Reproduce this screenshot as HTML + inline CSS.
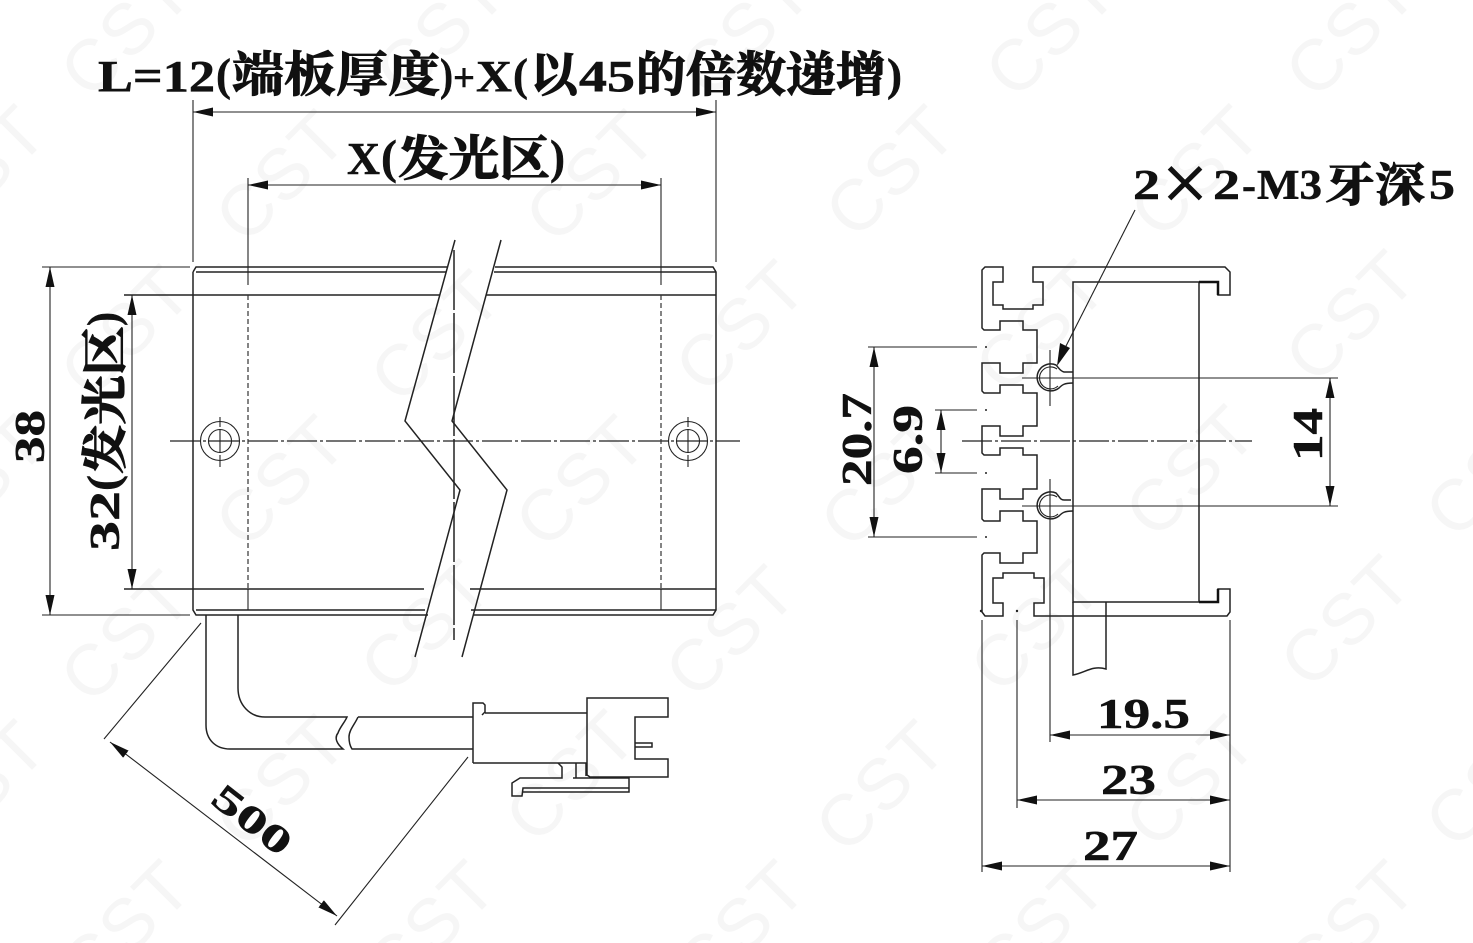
<!DOCTYPE html>
<html><head><meta charset="utf-8"><style>
html,body{margin:0;padding:0;background:#fff;overflow:hidden;width:1473px;height:943px}
svg{display:block}
text{font-family:"Liberation Serif","Noto Serif CJK SC",serif;font-weight:700;fill:#111;stroke:#111;stroke-width:.5}
text.cj{stroke-width:1.1}
text.wmt{font-family:"Liberation Sans",sans-serif;font-weight:400;font-size:72px;fill:#f6f6f6;stroke:none;letter-spacing:2px}
.l{fill:none;stroke:#222;stroke-width:1.5}
.t{fill:none;stroke:#222;stroke-width:1.1}
.c{fill:none;stroke:#222;stroke-width:1.2;stroke-dasharray:30 3 3 3}
.d{fill:none;stroke:#333;stroke-width:1.2;stroke-dasharray:5 3}
</style></head><body>
<svg width="1473" height="943" viewBox="0 0 1473 943" xmlns="http://www.w3.org/2000/svg">
<defs>
<marker id="a" markerUnits="userSpaceOnUse" markerWidth="24" markerHeight="12" refX="20" refY="6" orient="auto-start-reverse"><path d="M0,1.5 L20,6 L0,10.5 Z" fill="#111"/></marker>
<clipPath id="f"><rect width="1473" height="943"/></clipPath>
</defs>
<g clip-path="url(#f)">
<g>
<text class="wmt" text-anchor="middle" transform="translate(125,30) rotate(-45) translate(0,26)">CST</text>
<text class="wmt" text-anchor="middle" transform="translate(440,30) rotate(-45) translate(0,26)">CST</text>
<text class="wmt" text-anchor="middle" transform="translate(745,30) rotate(-45) translate(0,26)">CST</text>
<text class="wmt" text-anchor="middle" transform="translate(1050,30) rotate(-45) translate(0,26)">CST</text>
<text class="wmt" text-anchor="middle" transform="translate(1350,30) rotate(-45) translate(0,26)">CST</text>
<text class="wmt" text-anchor="middle" transform="translate(-20,170) rotate(-45) translate(0,26)">CST</text>
<text class="wmt" text-anchor="middle" transform="translate(280,175) rotate(-45) translate(0,26)">CST</text>
<text class="wmt" text-anchor="middle" transform="translate(590,175) rotate(-45) translate(0,26)">CST</text>
<text class="wmt" text-anchor="middle" transform="translate(890,170) rotate(-45) translate(0,26)">CST</text>
<text class="wmt" text-anchor="middle" transform="translate(1195,170) rotate(-45) translate(0,26)">CST</text>
<text class="wmt" text-anchor="middle" transform="translate(125,330) rotate(-45) translate(0,26)">CST</text>
<text class="wmt" text-anchor="middle" transform="translate(435,335) rotate(-45) translate(0,26)">CST</text>
<text class="wmt" text-anchor="middle" transform="translate(740,325) rotate(-45) translate(0,26)">CST</text>
<text class="wmt" text-anchor="middle" transform="translate(1040,325) rotate(-45) translate(0,26)">CST</text>
<text class="wmt" text-anchor="middle" transform="translate(1350,315) rotate(-45) translate(0,26)">CST</text>
<text class="wmt" text-anchor="middle" transform="translate(-20,480) rotate(-45) translate(0,26)">CST</text>
<text class="wmt" text-anchor="middle" transform="translate(280,480) rotate(-45) translate(0,26)">CST</text>
<text class="wmt" text-anchor="middle" transform="translate(580,480) rotate(-45) translate(0,26)">CST</text>
<text class="wmt" text-anchor="middle" transform="translate(885,480) rotate(-45) translate(0,26)">CST</text>
<text class="wmt" text-anchor="middle" transform="translate(1190,470) rotate(-45) translate(0,26)">CST</text>
<text class="wmt" text-anchor="middle" transform="translate(1490,470) rotate(-45) translate(0,26)">CST</text>
<text class="wmt" text-anchor="middle" transform="translate(125,635) rotate(-45) translate(0,26)">CST</text>
<text class="wmt" text-anchor="middle" transform="translate(425,625) rotate(-45) translate(0,26)">CST</text>
<text class="wmt" text-anchor="middle" transform="translate(730,630) rotate(-45) translate(0,26)">CST</text>
<text class="wmt" text-anchor="middle" transform="translate(1035,625) rotate(-45) translate(0,26)">CST</text>
<text class="wmt" text-anchor="middle" transform="translate(1345,620) rotate(-45) translate(0,26)">CST</text>
<text class="wmt" text-anchor="middle" transform="translate(-20,785) rotate(-45) translate(0,26)">CST</text>
<text class="wmt" text-anchor="middle" transform="translate(280,780) rotate(-45) translate(0,26)">CST</text>
<text class="wmt" text-anchor="middle" transform="translate(570,775) rotate(-45) translate(0,26)">CST</text>
<text class="wmt" text-anchor="middle" transform="translate(880,785) rotate(-45) translate(0,26)">CST</text>
<text class="wmt" text-anchor="middle" transform="translate(1190,780) rotate(-45) translate(0,26)">CST</text>
<text class="wmt" text-anchor="middle" transform="translate(1490,780) rotate(-45) translate(0,26)">CST</text>
<text class="wmt" text-anchor="middle" transform="translate(125,925) rotate(-45) translate(0,26)">CST</text>
<text class="wmt" text-anchor="middle" transform="translate(430,925) rotate(-45) translate(0,26)">CST</text>
<text class="wmt" text-anchor="middle" transform="translate(740,925) rotate(-45) translate(0,26)">CST</text>
<text class="wmt" text-anchor="middle" transform="translate(1040,925) rotate(-45) translate(0,26)">CST</text>
<text class="wmt" text-anchor="middle" transform="translate(1350,925) rotate(-45) translate(0,26)">CST</text>
</g>

<!-- left view body -->
<path class="l" d="M193,272V610L196,615H428M193,272L196,267H447M495,267H713L716,272V610L713,615H473M196,272H446M494,272H716"/>
<path class="l" d="M124,295H440M486,295H716M124,589H424M470,589H716M196,610H425M471,610H716"/>
<path class="l" d="M455,240L405,421L460,490L415,657M501,240L452,421L507,490L462,657"/>
<path class="l" d="M454,250V640" stroke-dasharray="60 3"/>
<path class="c" d="M170,441H740"/>
<path class="d" d="M248,295V589M661,295V589"/>
<path class="t" d="M248,178V285M661,178V285M248,589V610M661,589V610"/>
<path class="t" d="M193,100V262M716,100V262"/>
<path class="t" d="M42,267H190M42,615H190"/>
<path class="t" d="M193,112H716" marker-start="url(#a)" marker-end="url(#a)"/>
<path class="t" d="M248,185H661" marker-start="url(#a)" marker-end="url(#a)"/>
<path class="t" d="M50,267V615" marker-start="url(#a)" marker-end="url(#a)"/>
<path class="t" d="M132,295V589" marker-start="url(#a)" marker-end="url(#a)"/>
<g class="t"><circle cx="220" cy="441" r="19.5"/><circle cx="220" cy="441" r="11.5"/><path d="M220,417V427M220,429V453M220,455V467"/>
<circle cx="688" cy="441" r="19.5"/><circle cx="688" cy="441" r="11.5"/><path d="M688,417V427M688,429V453M688,455V467"/></g>

<!-- cable -->
<path class="l" d="M206,615V725C206,740 216,749 230,749H343C337,744 334,738 338,733C340,727 345,722 347,717H265C250,717 238,705 238,688V615"/>
<path class="l" d="M358,717C355,724 349,730 349,737C349,742 350,746 352,749H473M358,717H473"/>
<!-- connector -->
<path class="l" d="M473,763V703H483L485,705V712L482,715M485,713H587M473,763H587"/>
<path class="l" d="M587,775V698H668V717H635V759H668V777H590ZM635,743H652V747H635"/>
<path class="l" d="M558,763L562,767V778H520L512,783V796H522L523,788H629M573,778H629V792H523M576,763V778M586,763V776"/>

<!-- 500 dim -->
<path class="t" d="M201,623L104,739M468,757L335,925"/>
<path class="t" d="M110,742L337,916" marker-start="url(#a)" marker-end="url(#a)"/>

<!-- right view profile -->
<path class="l" d="M1033,267V282H1043V305H1033V309H1003V305H993V282H1003V267H985L982,270V328L984,330H1000V321H1023V330H1037V363H1023V373H1000V363H982V391L984,393H1000V385H1023V393H1037V426H1023V436H1000V426H982V453L984,455H1000V448H1023V455H1037V489H1023V499H1000V489H982V519L984,521H1000V511H1023V521H1037V553H1023V563H1000V553H984L982,555V612L985,616H1003V603H993V578H1003V573H1034V578H1044V603H1034V616H1227L1230,612V589H1218V602H1073V282H1218V295H1230V272L1225,267Z"/>
<path class="l" d="M1199,282V602"/>
<path d="M1199,282H1218V295" fill="none" stroke="#111" stroke-width="2.5"/>
<path d="M1199,602H1218V589" fill="none" stroke="#111" stroke-width="2.5"/>
<path class="l" d="M1073,602V675C1085,673 1092,665 1106,669V602"/>
<!-- screw slots -->
<path class="l" d="M1073,372H1064C1060,371 1059,368 1056,365A13.5,13.5 0 1 0 1059,388C1062,385 1064,383 1073,383"/>
<path class="t" d="M1057,369A11,11 0 1 0 1058,386"/>
<path class="l" d="M1071,500H1064C1060,500 1059,496 1056,493A13.5,13.5 0 1 0 1059,516C1062,513 1064,511 1073,511"/>
<path class="t" d="M1057,497A11,11 0 1 0 1058,514"/>
<path class="t" d="M1050,350V406M1050,479V742M1022,378H1338M1022,506H1338"/>
<path class="c" d="M962,441H1252"/>
<!-- ticks -->
<path class="t" d="M868,347H977M868,537H977M935,410H977M935,473H977"/>
<circle cx="986" cy="347" r="1" fill="#222"/><circle cx="986" cy="410" r="1" fill="#222"/><circle cx="986" cy="473" r="1" fill="#222"/><circle cx="986" cy="537" r="1" fill="#222"/>
<circle cx="1017" cy="611" r="1.2" fill="#222"/><circle cx="981" cy="611" r="1.2" fill="#222"/>
<path class="t" d="M874,347V537" marker-start="url(#a)" marker-end="url(#a)"/>
<path class="t" d="M941,410V473" marker-start="url(#a)" marker-end="url(#a)"/>
<path class="t" d="M1330,378V506" marker-start="url(#a)" marker-end="url(#a)"/>
<path class="t" d="M982,620V872M1017,620V808M1230,620V872"/>
<path class="t" d="M1050,735H1230" marker-start="url(#a)" marker-end="url(#a)"/>
<path class="t" d="M1017,800H1230" marker-start="url(#a)" marker-end="url(#a)"/>
<path class="t" d="M982,866H1230" marker-start="url(#a)" marker-end="url(#a)"/>
<!-- leader -->
<path class="t" d="M1135,210L1064,350"/>
<path d="M1060,343L1070,348L1057,366Z" fill="#111"/>

<!-- title -->
<text x="98" y="91" font-size="44" textLength="117" lengthAdjust="spacingAndGlyphs">L=12</text>
<text x="216" y="90" font-size="46" textLength="15" lengthAdjust="spacingAndGlyphs">(</text>
<text class="cj" x="232" y="91" font-size="48" textLength="208" lengthAdjust="spacingAndGlyphs">端板厚度</text>
<text x="440" y="90" font-size="46" textLength="13" lengthAdjust="spacingAndGlyphs">)</text>
<text x="453" y="91" font-size="40" textLength="22" lengthAdjust="spacingAndGlyphs">+</text>
<text x="476" y="91" font-size="44" textLength="36" lengthAdjust="spacingAndGlyphs">X</text>
<text x="513" y="90" font-size="46" textLength="15" lengthAdjust="spacingAndGlyphs">(</text>
<text class="cj" x="530" y="91" font-size="48" textLength="48" lengthAdjust="spacingAndGlyphs">以</text>
<text x="579" y="91" font-size="44" textLength="56" lengthAdjust="spacingAndGlyphs">45</text>
<text class="cj" x="636" y="91" font-size="48" textLength="250" lengthAdjust="spacingAndGlyphs">的倍数递增</text>
<text x="887" y="90" font-size="46" textLength="15" lengthAdjust="spacingAndGlyphs">)</text>
<!-- X(发光区) -->
<text x="347" y="174" font-size="46" textLength="33" lengthAdjust="spacingAndGlyphs">X</text>
<text x="381" y="173" font-size="48" textLength="16" lengthAdjust="spacingAndGlyphs">(</text>
<text class="cj" x="398" y="175" font-size="48" textLength="152" lengthAdjust="spacingAndGlyphs">发光区</text>
<text x="550" y="173" font-size="48" textLength="15" lengthAdjust="spacingAndGlyphs">)</text>
<!-- 2x2-M3 -->
<text x="1133" y="199" font-size="42" textLength="27" lengthAdjust="spacingAndGlyphs">2</text>
<text x="1162" y="210" font-size="80" textLength="46" lengthAdjust="spacingAndGlyphs" style="font-weight:400;stroke-width:1">×</text>
<text x="1213" y="199" font-size="42" textLength="27" lengthAdjust="spacingAndGlyphs">2</text>
<text x="1242" y="199" font-size="42" textLength="14" lengthAdjust="spacingAndGlyphs">-</text>
<text x="1257" y="199" font-size="42" textLength="65" lengthAdjust="spacingAndGlyphs">M3</text>
<text class="cj" x="1325" y="201" font-size="46" textLength="100" lengthAdjust="spacingAndGlyphs">牙深</text>
<text x="1429" y="199" font-size="42" textLength="26" lengthAdjust="spacingAndGlyphs">5</text>
<!-- vertical labels -->
<text transform="translate(44,463) rotate(-90)" font-size="42" textLength="53" lengthAdjust="spacingAndGlyphs">38</text>
<g transform="translate(119,551) rotate(-90)">
<text x="0" y="0" font-size="42" textLength="60" lengthAdjust="spacingAndGlyphs">32</text>
<text x="60" y="-1" font-size="44" textLength="16" lengthAdjust="spacingAndGlyphs">(</text>
<text class="cj" x="77" y="2" font-size="46" textLength="148" lengthAdjust="spacingAndGlyphs">发光区</text>
<text x="225" y="-1" font-size="44" textLength="14" lengthAdjust="spacingAndGlyphs">)</text>
</g>
<text transform="translate(871,486) rotate(-90)" font-size="42" textLength="93" lengthAdjust="spacingAndGlyphs">20.7</text>
<text transform="translate(922,474) rotate(-90)" font-size="42" textLength="69" lengthAdjust="spacingAndGlyphs">6.9</text>
<text transform="translate(1322,461) rotate(-90)" font-size="42" textLength="53" lengthAdjust="spacingAndGlyphs">14</text>
<text x="1097" y="728" font-size="42" textLength="93" lengthAdjust="spacingAndGlyphs">19.5</text>
<text x="1101" y="794" font-size="42" textLength="55" lengthAdjust="spacingAndGlyphs">23</text>
<text x="1083" y="860" font-size="42" textLength="55" lengthAdjust="spacingAndGlyphs">27</text>
<text transform="translate(209,802) rotate(38)" font-size="38" textLength="90" lengthAdjust="spacingAndGlyphs">500</text>
</g>
</svg>
</body></html>
